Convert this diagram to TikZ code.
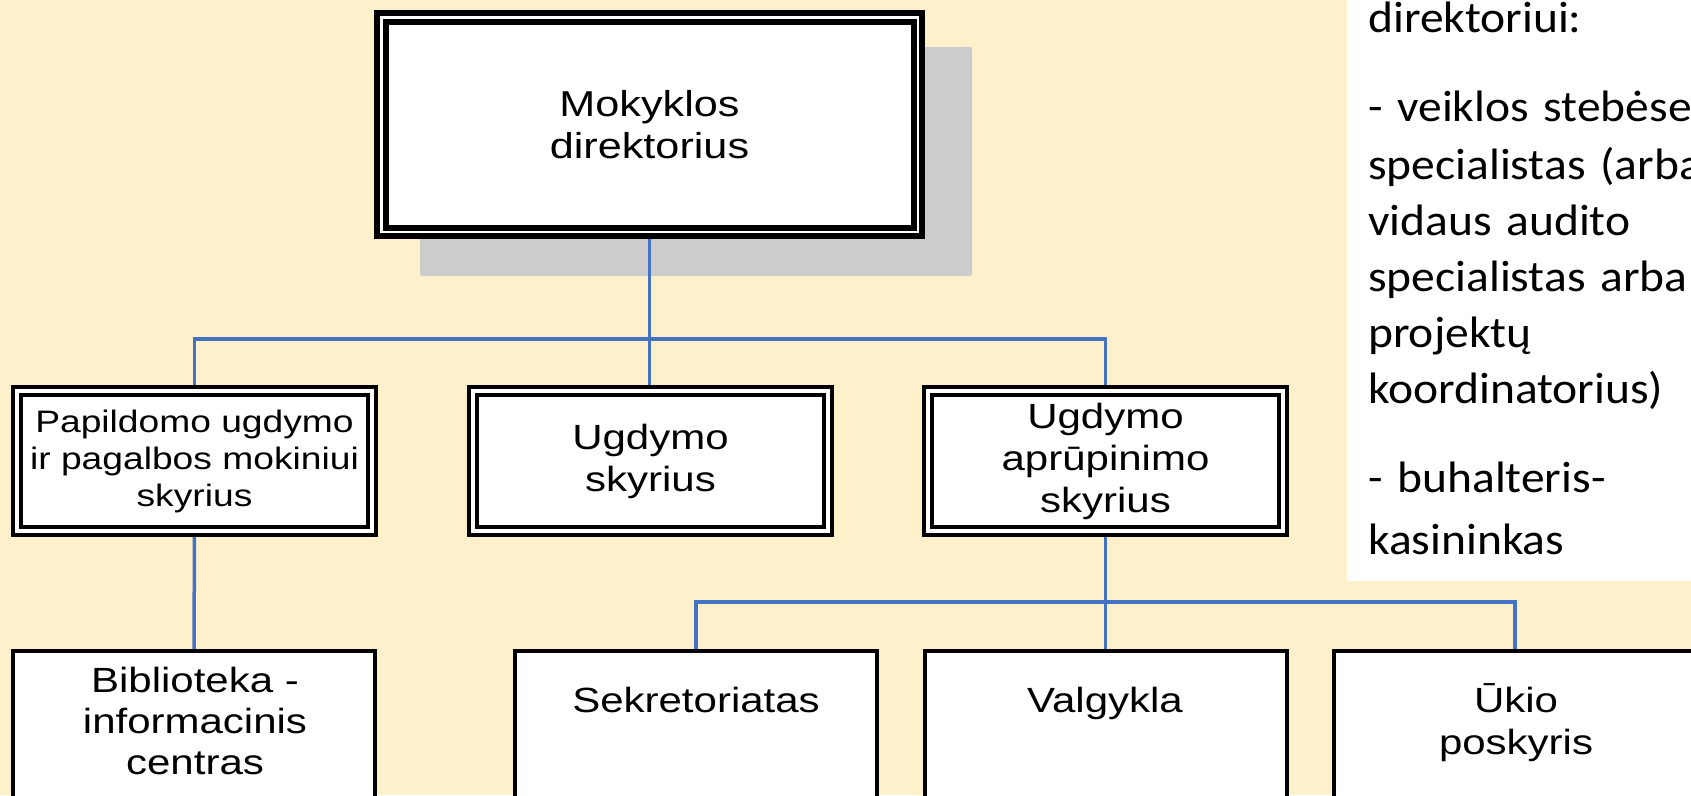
\documentclass[tikz,border=0pt]{standalone}
\usepackage{fontspec}
\usepackage{xcolor}
\usepackage{tikz}
\usetikzlibrary{backgrounds}

\newfontfamily\arialx[FakeStretch=1.2]{Liberation Sans}
\newfontfamily\calibrix[FakeStretch=1.08]{Carlito}

\definecolor{paper}{HTML}{FFF0CC}
\definecolor{shadowgray}{HTML}{CCCCCC}
\definecolor{linkblue}{HTML}{4472C4}

\tikzset{
  headbox/.style={draw, line width=6pt, double=white, double distance=2.5pt,
    fill=white, minimum width=536.5pt, minimum height=214.5pt, inner sep=0pt,
    align=center, font=\arialx\fontsize{36}{42}\selectfont},
  unitbox/.style={draw, line width=4pt, double=white, double distance=4pt,
    fill=white, minimum width=355pt, minimum height=140pt, inner sep=0pt,
    align=center, font=\arialx\fontsize{35}{42}\selectfont},
  subbox/.style={draw, line width=4pt, fill=white, minimum width=362pt,
    minimum height=260pt, anchor=north},
  subtext/.style={anchor=base, text width=340pt, align=center, inner sep=0pt,
    font=\arialx\fontsize{35}{41}\selectfont},
  link/.style={draw=linkblue, line width=3.5pt},
}

\begin{document}
\begin{tikzpicture}[x=1pt, y=-1pt]
    \def\rowtwo{461}
    \def\rowthree{649}
    \useasboundingbox (0,0) rectangle (1691,795);
    \clip (0,0) rectangle (1691,795);

    % side note
    \fill[white] (1347,-5) rectangle (1700,581);
    \node[anchor=base west, text width=400pt, align=left, inner sep=0pt,
      font=\calibrix\fontsize{44}{56}\selectfont] (note) at (1368,32)
      {direktoriui:\\[33pt]
       - veiklos steb\.ese\\[2pt]
       specialistas (arba\\
       vidaus audito\\
       specialistas arba\\
       projektų\\
       koordinatorius)\\[33pt]
       - buhalteris-\\[6pt]
       kasininkas};

    \node[headbox] (dir) at (649.5,124.5) {Mokyklos\\direktorius};

    \node[unitbox, font=\arialx\fontsize{31}{37}\selectfont] (pap) at (194.5,\rowtwo)
      {Papildomo ugdymo\\ir pagalbos mokiniui\\skyrius};
    \node[unitbox] (ugd) at (650.5,\rowtwo) {Ugdymo\\skyrius};
    \node[unitbox] (apr) at (1105.5,\rowtwo) {Ugdymo\\aprūpinimo\\skyrius};

    \node[subbox] (bib) at (194,\rowthree) {};
    \node[subbox] (sek) at (696,\rowthree) {};
    \node[subbox] (val) at (1106,\rowthree) {};
    \node[subbox] (uki) at (1515,\rowthree) {};

    \node[subtext] (bibtxt) at (195,692) {Biblioteka -\\informacinis\\centras};
    \node[subtext] (sektxt) at (696,712) {Sekretoriatas};
    \node[subtext] (valtxt) at (1105,712) {Valgykla};
    \node[subtext, font=\arialx\fontsize{35}{42}\selectfont] (ukitxt) at (1516,712) {Ūkio\\poskyris};

    \coordinate (busa) at (650,339);
    \coordinate (busb) at (1105.5,602);

    \begin{scope}[on background layer]
      \fill[paper] (0,0) rectangle (1691,795);
      \fill[shadowgray, rounded corners=2pt] (420,47) rectangle (972,276);
      \draw[link] (dir.south) -- (dir.south |- ugd.north);
      \draw[link] (pap.north) |- (busa) -| (apr.north);
      \draw[link] (pap.south) -- (bib.north);
      \draw[link] (apr.south) -- (apr.south |- val.north);
      \draw[link] (sek.north) |- (busb) -| (uki.north);
    \end{scope}
\end{tikzpicture}
\end{document}
